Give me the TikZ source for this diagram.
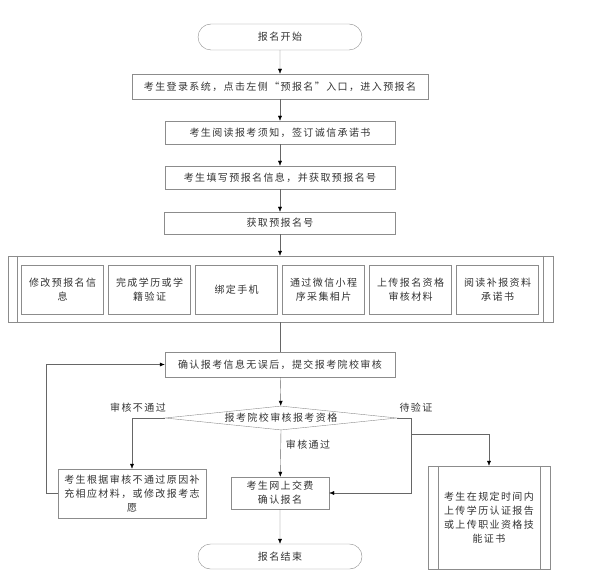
\documentclass[tikz,border=0pt]{standalone}
\usepackage{fontspec}
\setmainfont[LetterSpace=14]{Noto Sans CJK SC}
\usetikzlibrary{shapes.misc,shapes.geometric,arrows.meta}

\tikzset{
  box/.style={draw=black!45, fill=white, text=black!80, align=center,
    inner sep=0pt, font=\fontsize{10}{14}\selectfont},
  term/.style={box, rounded rectangle},
  line/.style={draw=black!60},
  arr/.style={line, -{Latex[length=5pt,width=4pt,black]}},
  lbl/.style={text=black!80, font=\fontsize{10}{14}\selectfont}
}

\begin{document}
\begin{tikzpicture}[x=1pt,y=-1pt]
      \useasboundingbox (0,0) rectangle (599,585);
      % top chain
      \node[term, minimum width=164pt, minimum height=26pt] (start) at (280,37) {报名开始};
      \node[box, minimum width=296pt, minimum height=25pt] (login) at (280,86.5)
        {考生登录系统，点击左侧“预报名”入口，进入预报名};
      \node[box, minimum width=230pt, minimum height=23pt] (notice) at (280,132.5)
        {考生阅读报考须知，签订诚信承诺书};
      \node[box, minimum width=230pt, minimum height=23pt] (fillin) at (280,177.5)
        {考生填写预报名信息，并获取预报名号};
      \node[box, minimum width=231pt, minimum height=22pt] (getno) at (280,223)
        {获取预报名号};
      % sub steps
      \node[box, minimum width=545pt, minimum height=66pt] (steps) at (280.3,289) {};
      \draw[black!45] ([xshift=10pt]steps.north west) -- ([xshift=10pt]steps.south west);
      \draw[black!45] ([xshift=-10pt]steps.north east) -- ([xshift=-10pt]steps.south east);
      \foreach \t [count=\i from 0] in {{修改预报名信\\息},{完成学历或学\\籍验证},{绑定手机},
          {通过微信小程\\序采集相片},{上传报名资格\\审核材料},{阅读补报资料\\承诺书}}
        \node[box, minimum width=82pt, minimum height=49pt] (sub\i) at (62.6+87*\i,289.5) {\t};
      % review
      \node[box, minimum width=230pt, minimum height=25pt] (confirm) at (280,364.5)
        {确认报考信息无误后，提交报考院校审核};
      \node[box, diamond, aspect=9.6, minimum width=232pt, minimum height=24pt] (check) at (281,418)
        {报考院校审核报考资格};
      \node[box, minimum width=148pt, minimum height=49pt] (redo) at (132,493.5)
        {考生根据审核不通过原因补\\充相应材料，或修改报考志\\愿};
      \node[box, minimum width=98pt, minimum height=32pt] (pay) at (280,493)
        {考生网上交费\\确认报名};
      \node[box, minimum width=122pt, minimum height=103pt] (verify) at (489,517.5)
        {考生在规定时间内\\上传学历认证报告\\或上传职业资格技\\能证书};
      \draw[black!45] ([xshift=10pt]verify.north west) -- ([xshift=10pt]verify.south west);
      \draw[black!45] ([xshift=-10pt]verify.north east) -- ([xshift=-10pt]verify.south east);
      \node[term, minimum width=164pt, minimum height=25pt] (finish) at (280,556.5) {报名结束};
      % labels
      \node[lbl] (lbfail) at (138,408) {审核不通过};
      \node[lbl] (lbpass) at (308,445) {审核通过};
      \node[lbl] (lbwait) at (416,408) {待验证};
      % connectors
      \draw[arr] (start) -- (login);
      \draw[arr] (login) -- (notice);
      \draw[arr] (notice) -- (fillin);
      \draw[arr] (fillin) -- (getno);
      \draw[arr] (getno) -- (steps.north -| getno);
      \draw[line] (steps.south -| confirm) -- (confirm);
      \draw[arr] (confirm) -- (check);
      \draw[arr] (check.south) -- (pay);
      \draw[arr] (pay) -- (finish);
      \draw[arr] (check.west) -| (redo.north);
      \draw[arr] (redo.west) -- ++(-11.5,0) |- (confirm.west);
      \coordinate (rt) at (411,418);
      \coordinate (rb) at (411,434);
      \draw[arr] (check.east) -- (rt) |- (pay.east);
      \draw[arr] (rb) -| (verify.north);
\end{tikzpicture}
\end{document}
